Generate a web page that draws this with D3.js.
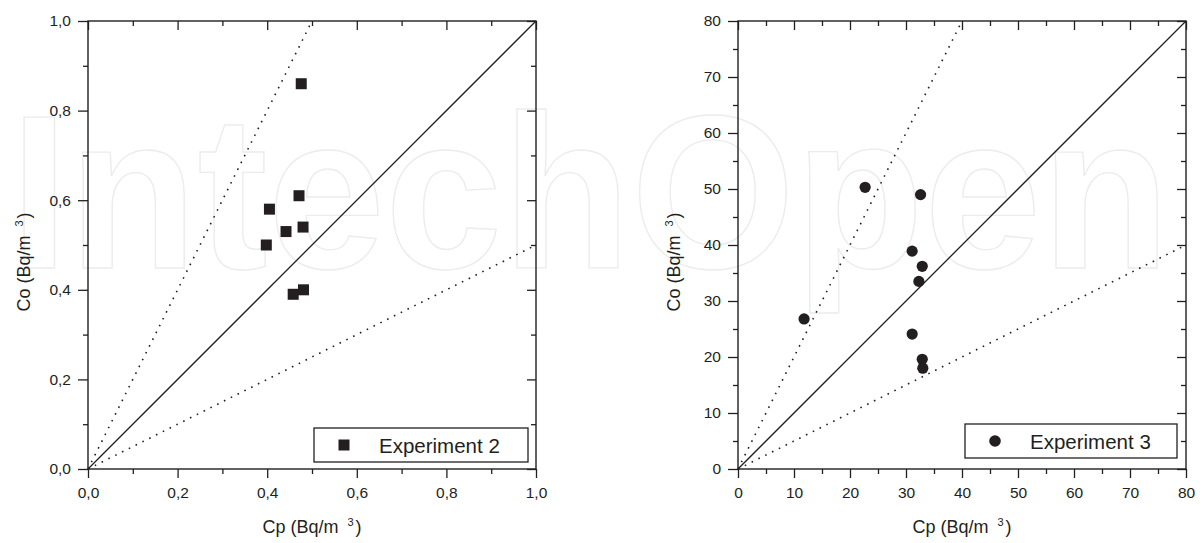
<!DOCTYPE html>
<html>
<head>
<meta charset="utf-8">
<script src="https://cdn.jsdelivr.net/npm/d3@7"></script>
<style>
  body { margin: 0; background: #fff; }
  svg { display: block; font-family: "Liberation Sans", Arial, sans-serif; }
</style>
</head>
<body>
<div id="chart"></div>
<script>
(function () {

// experiment 2 (left panel)
var exp2Cp = [0.476, 0.471, 0.405, 0.442, 0.480, 0.398, 0.458, 0.481];
var exp2Co = [0.860, 0.610, 0.580, 0.530, 0.540, 0.500, 0.390, 0.400];
var exp2Major = [0, 0.2, 0.4, 0.6, 0.8, 1.0];
var exp2Minor = [0.1, 0.3, 0.5, 0.7, 0.9];

// experiment 3 (right panel)
var exp3Cp = [22.7, 32.6, 31.1, 32.9, 32.3, 11.8, 31.1, 32.9, 33.0];
var exp3Co = [50.3, 49.0, 38.9, 36.2, 33.5, 26.8, 24.1, 19.6, 18.0];
var exp3Major = [0, 10, 20, 30, 40, 50, 60, 70, 80];
var exp3Minor = [5, 15, 25, 35, 45, 55, 65, 75];

// reference lines Co = k * Cp
var slopes = [1, 2, 0.5];
var slopeDash = [null, "1.6,6", "1.6,6"];

var ink = "#231f20";

var svg = d3.select("#chart").append("svg")
    .attr("width", 1203)
    .attr("height", 543);

// faint watermark behind everything
svg.append("text")
    .attr("x", 10)
    .attr("y", 268)
    .attr("textLength", 1160)
    .attr("lengthAdjust", "spacingAndGlyphs")
    .style("font-size", "219px")
    .style("font-weight", "bold")
    .style("fill", "none")
    .style("stroke", "#ececec")
    .style("stroke-width", "1.4px")
    .text("IntechOpen");

var comma = d3.formatLocale({decimal: ",", thousands: ".", grouping: [3], currency: ["", ""]});

function title(sel, label) {
  sel.append("tspan").text(label + " (Bq/m");
  sel.append("tspan").attr("dx", 9).attr("dy", -7).style("font-size", "11px").text("3");
  sel.append("tspan").attr("dx", 2).attr("dy", 7).text(")");
}

function panel(opt) {
  var x = d3.scaleLinear().domain(opt.domain).range([opt.left, opt.left + 448]);
  var y = d3.scaleLinear().domain(opt.domain).range([469, 21]);
  var g = svg.append("g");

  // minor ticks
  [[d3.axisBottom(x), "translate(0,469)", 5],
   [d3.axisLeft(y), "translate(" + opt.left + ",0)", 5],
   [d3.axisTop(x), "translate(0,21)", -5],
   [d3.axisRight(y), "translate(" + (opt.left + 448) + ",0)", -5]].forEach(function (a) {
    g.append("g")
        .attr("transform", a[1])
        .call(a[0].tickValues(opt.minor).tickSize(a[2]).tickFormat(""));
  });

  // major ticks
  g.append("g")
      .attr("transform", "translate(0,469)")
      .call(d3.axisBottom(x).tickValues(opt.major).tickSize(9).tickPadding(9).tickFormat(opt.fmt));
  g.append("g")
      .attr("transform", "translate(" + opt.left + ",0)")
      .call(d3.axisLeft(y).tickValues(opt.major).tickSize(10).tickPadding(7).tickFormat(opt.fmt));
  g.append("g")
      .attr("transform", "translate(0,21)")
      .call(d3.axisTop(x).tickValues(opt.major).tickSize(-9).tickFormat(""));
  g.append("g")
      .attr("transform", "translate(" + (opt.left + 448) + ",0)")
      .call(d3.axisRight(y).tickValues(opt.major).tickSize(-9).tickFormat(""));

  g.selectAll(".domain").remove();
  g.selectAll(".tick line").attr("stroke", ink).attr("stroke-width", 1.3);
  g.selectAll(".tick text")
      .attr("fill", ink)
      .style("font-size", "15.5px")
      .style("font-family", "Liberation Sans, Arial, sans-serif");

  // frame
  g.append("rect")
      .attr("x", x(opt.domain[0]))
      .attr("y", y(opt.domain[1]))
      .attr("width", x(opt.domain[1]) - x(opt.domain[0]))
      .attr("height", y(opt.domain[0]) - y(opt.domain[1]))
      .attr("fill", "none")
      .attr("stroke", ink)
      .attr("stroke-width", 1.4);

  // reference lines
  var max = opt.domain[1];
  slopes.forEach(function (k, i) {
    var xEnd = Math.min(max, max / k);
    g.append("line")
        .attr("x1", x(0)).attr("y1", y(0))
        .attr("x2", x(xEnd)).attr("y2", y(k * xEnd))
        .attr("stroke", ink)
        .attr("stroke-width", i === 0 ? 1.3 : 1.6)
        .attr("stroke-dasharray", slopeDash[i]);
  });

  // points
  var pts = opt.cp.map(function (d, i) { return [d, opt.co[i]]; });
  if (opt.shape === "square") {
    g.selectAll(".pt").data(pts).enter().append("rect")
        .attr("x", function (d) { return x(d[0]) - 5.5; })
        .attr("y", function (d) { return y(d[1]) - 5.5; })
        .attr("width", 11).attr("height", 11)
        .attr("fill", ink);
  } else {
    g.selectAll(".pt").data(pts).enter().append("circle")
        .attr("cx", function (d) { return x(d[0]); })
        .attr("cy", function (d) { return y(d[1]); })
        .attr("r", 5.6)
        .attr("fill", ink);
  }

  // legend
  var lg = g.append("g").attr("transform", "translate(" + opt.legend[0] + "," + opt.legend[1] + ")");
  lg.append("rect")
      .attr("width", opt.legend[2]).attr("height", 34)
      .attr("fill", "#fff")
      .attr("stroke", ink)
      .attr("stroke-width", 1.3);
  if (opt.shape === "square") {
    lg.append("rect").attr("x", 24.5).attr("y", 11.5).attr("width", 11).attr("height", 11).attr("fill", ink);
  } else {
    lg.append("circle").attr("cx", 30).attr("cy", 17).attr("r", 5.8).attr("fill", ink);
  }
  lg.append("text")
      .attr("x", 65).attr("y", 24.5)
      .attr("fill", ink)
      .style("font-size", "20.5px")
      .text(opt.label);

  // axis titles
  g.append("text")
      .attr("x", opt.left + 224).attr("y", 533)
      .attr("text-anchor", "middle")
      .attr("fill", ink)
      .style("font-size", "18px")
      .call(title, "Cp");

  g.append("text")
      .attr("transform", "translate(" + (opt.left - 58) + ",262) rotate(-90)")
      .attr("text-anchor", "middle")
      .attr("fill", ink)
      .style("font-size", "18px")
      .call(title, "Co");
}

panel({
  left: 88, domain: [0, 1], major: exp2Major, minor: exp2Minor,
  fmt: comma.format(".1f"), cp: exp2Cp, co: exp2Co, shape: "square",
  legend: [314, 428, 214], label: "Experiment 2"
});

panel({
  left: 738, domain: [0, 80], major: exp3Major, minor: exp3Minor,
  fmt: d3.format("d"), cp: exp3Cp, co: exp3Co, shape: "circle",
  legend: [965, 424, 212], label: "Experiment 3"
});

})();
</script>
</body>
</html>
